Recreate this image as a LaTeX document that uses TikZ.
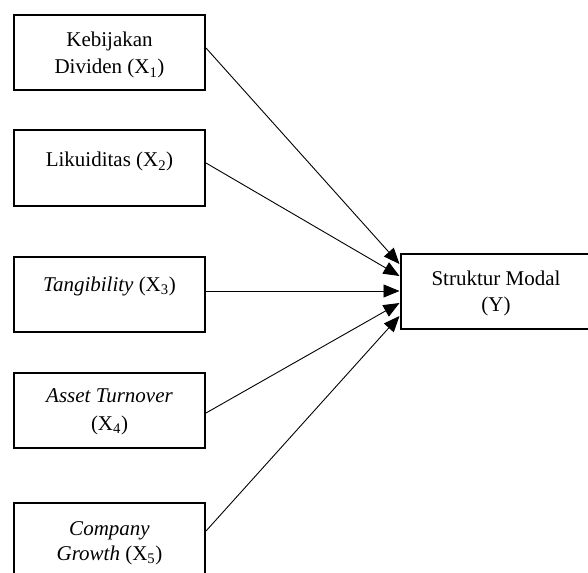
\documentclass[tikz,border=0pt]{standalone}
\usepackage{fontspec}
\setmainfont{Liberation Serif}
\usetikzlibrary{arrows.meta}
\begin{document}
\begin{tikzpicture}[x=1pt,y=-1pt,
  box/.style={draw,line width=2pt,minimum width=191pt,minimum height=75pt,inner sep=0pt},
  lbl/.style={font=\fontsize{21}{27}\selectfont,inner sep=0pt,anchor=base},
  conn/.style={line width=0.9pt,-{Triangle[length=16pt,width=13pt]}}]
\useasboundingbox (0,0) rectangle (588,572);
\node[box] (b1) at (109.5,52.5) {};
\node[box] (b2) at (109.5,168) {};
\node[box] (b3) at (109.5,294.5) {};
\node[box] (b4) at (109.5,410) {};
\node[box] (b5) at (109.5,540.5) {};
\node[box] (y) at (496,291) {};
\node[lbl] (t1a) at (109.5,47) {Kebijakan};
\node[lbl] (t1b) at (109.5,74) {Dividen (X\textsubscript{1})};
\node[lbl] (t2) at (109.5,167) {Likuiditas (X\textsubscript{2})};
\node[lbl] (t3) at (109.5,291) {\textit{Tangibility} (X\textsubscript{3})};
\node[lbl] (t4a) at (109.5,402) {\textit{Asset Turnover}};
\node[lbl] (t4b) at (109.5,430) {(X\textsubscript{4})};
\node[lbl] (t5a) at (109.5,535) {\textit{Company}};
\node[lbl] (t5b) at (109.5,560) {\textit{Growth} (X\textsubscript{5})};
\node[lbl] (ya) at (496,285) {Struktur Modal};
\node[lbl] (yb) at (496,311) {(Y)};
\draw[conn] ([yshift=4.5pt]b1.east) -- ([yshift=27pt]y.west);
\draw[conn] ([yshift=5pt]b2.east) -- ([yshift=15pt]y.west);
\draw[conn] ([yshift=3.5pt]b3.east) -- (y.west);
\draw[conn] ([yshift=-3pt]b4.east) -- ([yshift=-12pt]y.west);
\draw[conn] ([yshift=9.5pt]b5.east) -- ([yshift=-25pt]y.west);
\end{tikzpicture}
\end{document}
